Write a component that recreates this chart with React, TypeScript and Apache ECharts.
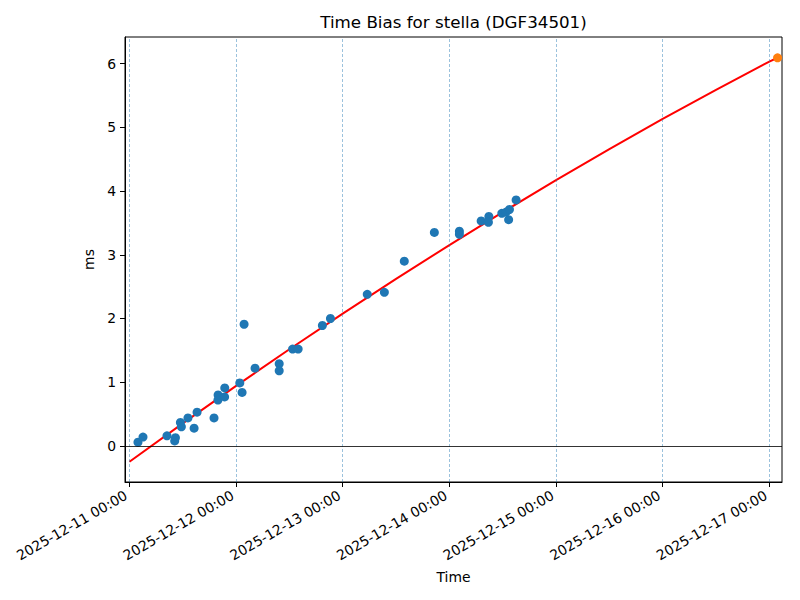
import React, { useEffect, useRef } from "react";
import * as echarts from "echarts";

// Observations (UTC timestamps) and measured time bias in ms
const obsTimes: string[] = [
  "2025-12-11T01:55", "2025-12-11T03:03", "2025-12-11T08:27", "2025-12-11T10:21",
  "2025-12-11T10:11", "2025-12-11T11:28", "2025-12-11T11:41", "2025-12-11T13:10",
  "2025-12-11T14:33", "2025-12-11T15:13", "2025-12-11T19:02", "2025-12-11T19:57",
  "2025-12-11T19:55", "2025-12-11T21:27", "2025-12-11T21:25", "2025-12-12T00:50",
  "2025-12-12T01:21", "2025-12-12T01:48", "2025-12-12T04:16", "2025-12-12T09:42",
  "2025-12-12T09:42", "2025-12-12T12:43", "2025-12-12T13:58", "2025-12-12T19:25",
  "2025-12-12T21:14", "2025-12-13T05:31", "2025-12-13T09:22", "2025-12-13T13:51",
  "2025-12-13T20:37", "2025-12-14T02:15", "2025-12-14T02:15", "2025-12-14T07:09",
  "2025-12-14T08:53", "2025-12-14T08:47", "2025-12-14T11:48", "2025-12-14T12:46",
  "2025-12-14T13:31", "2025-12-14T13:20", "2025-12-14T15:01",
];
const obsBias: number[] = [
  0.06, 0.14, 0.16, 0.13,
  0.08, 0.37, 0.3, 0.44,
  0.28, 0.53, 0.44, 0.8,
  0.72, 0.91, 0.77, 0.99,
  0.84, 1.91, 1.22, 1.29,
  1.18, 1.52, 1.52, 1.89,
  2.0, 2.38, 2.41, 2.9,
  3.35, 3.37, 3.32, 3.53,
  3.6, 3.51, 3.65, 3.67,
  3.71, 3.55, 3.86,
];

// Fitted trend (red curve) read along its length
const fitTimes: string[] = [
  "2025-12-11T00:00", "2025-12-11T12:00", "2025-12-12T00:00", "2025-12-12T12:00",
  "2025-12-13T00:00", "2025-12-13T12:00", "2025-12-14T00:00", "2025-12-14T12:00",
  "2025-12-15T00:00", "2025-12-15T12:00", "2025-12-16T00:00", "2025-12-16T12:00",
  "2025-12-17T00:00", "2025-12-17T01:51",
];
const fitBias: number[] = [
  -0.248, 0.355, 0.943, 1.517,
  2.076, 2.621, 3.152, 3.668,
  4.17, 4.657, 5.13, 5.588,
  6.03, 6.09,
];

// Predicted point (orange)
const predTime: string[] = ["2025-12-17T01:51"];
const predBias: number[] = [6.09];

const dayTicks: string[] = [
  "2025-12-11T00:00", "2025-12-12T00:00", "2025-12-13T00:00", "2025-12-14T00:00",
  "2025-12-15T00:00", "2025-12-16T00:00", "2025-12-17T00:00",
];
const yTicks: number[] = [0, 1, 2, 3, 4, 5, 6];

const xMinTime = "2025-12-10T23:00";
const xMaxTime = "2025-12-17T02:51";
const yMin = -0.565;
const yMax = 6.416;

const BASE = Date.parse("2025-12-11T00:00Z");
const toDay = (s: string) => (Date.parse(s + "Z") - BASE) / 86400000;
const pad = (n: number) => (n < 10 ? "0" + n : "" + n);
const fmtDay = (v: number) => {
  const ms = BASE + Math.round(v * 1440) * 60000;
  const d = new Date(ms);
  return (
    d.getUTCFullYear() + "-" + pad(d.getUTCMonth() + 1) + "-" + pad(d.getUTCDate()) +
    " " + pad(d.getUTCHours()) + ":" + pad(d.getUTCMinutes())
  );
};

const FONT = "DejaVu Sans";

export default function App() {
  const ref = useRef<HTMLDivElement>(null);
  useEffect(() => {
    if (!ref.current) return;
    const chart = echarts.init(ref.current, null, { renderer: "svg" });
    const xTickVals = dayTicks.map(toDay);
    const option: any = {
      animation: false,
      backgroundColor: "#ffffff",
      textStyle: { fontFamily: FONT },
      title: {
        text: "Time Bias for stella (DGF34501)",
        left: 448.5,
        textAlign: "center",
        top: 8,
        textStyle: { fontFamily: FONT, fontSize: 16.7, fontWeight: "normal", color: "#000" },
      },
      grid: {
        left: 125,
        right: 18,
        top: 37,
        bottom: 118,
        show: true,
        borderColor: "#000",
        borderWidth: 1,
        backgroundColor: "transparent",
        outerBoundsMode: "none",
      },
      xAxis: {
        type: "value",
        min: toDay(xMinTime),
        max: toDay(xMaxTime),
        name: "Time",
        nameLocation: "middle",
        nameGap: 88,
        nameTextStyle: { fontFamily: FONT, fontSize: 13.9, color: "#000" },
        axisLine: { show: true, onZero: false, lineStyle: { color: "#000", width: 1 } },
        axisTick: { show: true, inside: false, length: 5, customValues: xTickVals, lineStyle: { color: "#000", width: 1 } },
        axisLabel: {
          show: true,
          customValues: xTickVals,
          rotate: 30,
          margin: 10,
          padding: [0, 4, 0, 0],
          fontFamily: FONT,
          fontSize: 13.9,
          color: "#000",
          formatter: (v: number) => fmtDay(v),
          hideOverlap: false,
        },
        splitLine: { show: false },
      },
      yAxis: {
        type: "value",
        min: yMin,
        max: yMax,
        name: "ms",
        nameLocation: "middle",
        nameGap: 25,
        nameTextStyle: { fontFamily: FONT, fontSize: 13.9, color: "#000" },
        axisLine: { show: true, onZero: false, lineStyle: { color: "#000", width: 1 } },
        axisTick: { show: true, inside: false, length: 5, customValues: yTicks, lineStyle: { color: "#000", width: 1 } },
        axisLabel: {
          show: true,
          customValues: yTicks,
          margin: 9,
          fontFamily: FONT,
          fontSize: 13.9,
          color: "#000",
          hideOverlap: false,
        },
        splitLine: { show: false },
      },
      series: [
        {
          type: "line",
          data: fitTimes.map((t, i) => [toDay(t), fitBias[i]]),
          showSymbol: false,
          symbol: "none",
          lineStyle: { color: "#ff0000", width: 2 },
          z: 2,
          markLine: {
            silent: true,
            symbol: ["none", "none"],
            label: { show: false },
            animation: false,
            data: [
              ...xTickVals.map((v) => ({
                xAxis: v,
                lineStyle: { color: "#1f77b4", width: 0.6, type: [3, 2], opacity: 0.75 },
              })),
              { yAxis: 0, lineStyle: { color: "#000", width: 0.8, type: "solid" } },
            ],
          },
        },
        {
          type: "scatter",
          data: obsTimes.map((t, i) => [toDay(t), obsBias[i]]),
          symbol: "circle",
          symbolSize: 9,
          itemStyle: { color: "#1f77b4", opacity: 1 },
          z: 3,
        },
        {
          type: "scatter",
          data: predTime.map((t, i) => [toDay(t), predBias[i]]),
          symbol: "circle",
          symbolSize: 9,
          itemStyle: { color: "#ff7f0e", opacity: 1 },
          z: 4,
        },
      ],
    };
    chart.setOption(option);
    return () => chart.dispose();
  }, []);
  return (
    <div
      ref={ref}
      style={{ position: "fixed", left: 0, top: 0, width: 800, height: 600 }}
    />
  );
}
